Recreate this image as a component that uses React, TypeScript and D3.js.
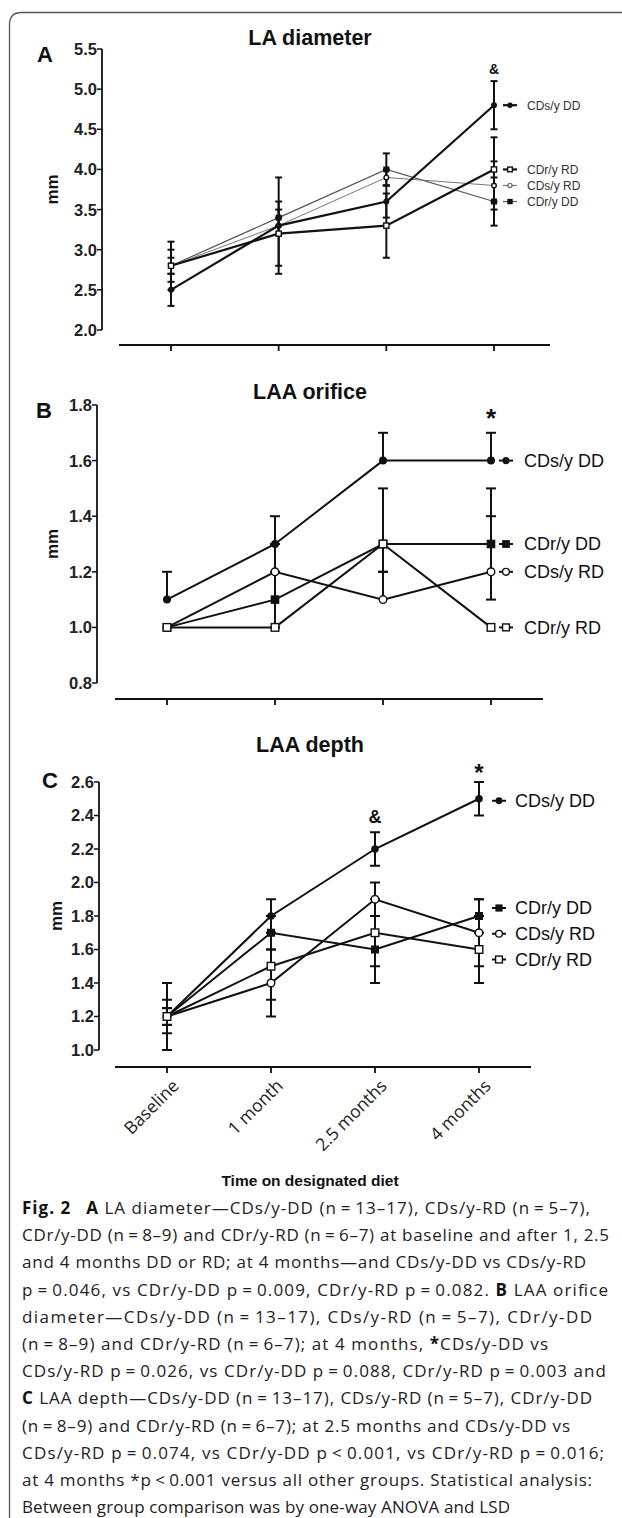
import React from "react";
import * as d3 from "d3";

const categories = ["Baseline", "1 month", "2.5 months", "4 months"];
const groups = ["CDs/y DD", "CDr/y DD", "CDs/y RD", "CDr/y RD"];

// Panel A: LA diameter (mm)
const laCDsDD = [2.5, 3.3, 3.6, 4.8];
const laCDrDD = [2.8, 3.4, 4.0, 3.6];
const laCDsRD = [2.8, 3.3, 3.9, 3.8];
const laCDrRD = [2.8, 3.2, 3.3, 4.0];
const laErrCDsDD = [0.2, 0.6, 0.2, 0.3];
const laErrCDrDD = [0.2, 0.1, 0.2, 0.3];
const laErrCDsRD = [0.1, 0.1, 0.1, 0.3];
const laErrCDrRD = [0.3, 0.4, 0.4, 0.4];
const laTicks = [2.0, 2.5, 3.0, 3.5, 4.0, 4.5, 5.0, 5.5];

// Panel B: LAA orifice (mm)
const orCDsDD = [1.1, 1.3, 1.6, 1.6];
const orCDrDD = [1.0, 1.1, 1.3, 1.3];
const orCDsRD = [1.0, 1.2, 1.1, 1.2];
const orCDrRD = [1.0, 1.0, 1.3, 1.0];
const orUpCDsDD = [0.1, 0.1, 0.1, 0.1];
const orDnCDsDD = [0, 0, 0, 0];
const orUpCDrDD = [0, 0.1, 0.2, 0.2];
const orDnCDrDD = [0, 0.1, 0.1, 0.2];
const orUpCDsRD = [0, 0.1, 0.1, 0.2];
const orDnCDsRD = [0, 0.2, 0, 0];
const orUpCDrRD = [0, 0, 0, 0];
const orDnCDrRD = [0, 0, 0, 0];
const orTicks = [0.8, 1.0, 1.2, 1.4, 1.6, 1.8];

// Panel C: LAA depth (mm)
const dpCDsDD = [1.2, 1.8, 2.2, 2.5];
const dpCDrDD = [1.2, 1.7, 1.6, 1.8];
const dpCDsRD = [1.2, 1.4, 1.9, 1.7];
const dpCDrRD = [1.2, 1.5, 1.7, 1.6];
const dpErrCDsDD = [0.2, 0.1, 0.1, 0.1];
const dpErrCDrDD = [0.1, 0.1, 0.2, 0.1];
const dpErrCDsRD = [0.05, 0.2, 0.1, 0.2];
const dpErrCDrRD = [0.05, 0.2, 0.2, 0.2];
const dpTicks = [1.0, 1.2, 1.4, 1.6, 1.8, 2.0, 2.2, 2.4, 2.6];

const captionLines: Array<Array<[string, boolean]>> = [
  [["Fig. 2", true], ["\u2002 ", false], ["A", true], [" LA diameter\u2014CDs/y-DD (n\u2009=\u200913\u201317), CDs/y-RD (n\u2009=\u20095\u20137),", false]],
  [["CDr/y-DD (n\u2009=\u20098\u20139) and CDr/y-RD (n\u2009=\u20096\u20137) at baseline and after 1, 2.5", false]],
  [["and 4 months DD or RD; at 4 months\u2014and CDs/y-DD vs CDs/y-RD", false]],
  [["p\u2009=\u20090.046, vs CDr/y-DD p\u2009=\u20090.009, CDr/y-RD p\u2009=\u20090.082. ", false], ["B", true], [" LAA orifice", false]],
  [["diameter\u2014CDs/y-DD (n\u2009=\u200913\u201317), CDs/y-RD (n\u2009=\u20095\u20137), CDr/y-DD", false]],
  [["(n\u2009=\u20098\u20139) and CDr/y-RD (n\u2009=\u20096\u20137); at 4 months, ", false], ["*", true], ["CDs/y-DD vs", false]],
  [["CDs/y-RD p\u2009=\u20090.026, vs CDr/y-DD p\u2009=\u20090.088, CDr/y-RD p\u2009=\u20090.003 and", false]],
  [["C", true], [" LAA depth\u2014CDs/y-DD (n\u2009=\u200913\u201317), CDs/y-RD (n\u2009=\u20095\u20137), CDr/y-DD", false]],
  [["(n\u2009=\u20098\u20139) and CDr/y-RD (n\u2009=\u20096\u20137); at 2.5 months and CDs/y-DD vs", false]],
  [["CDs/y-RD p\u2009=\u20090.074, vs CDr/y-DD p\u2009<\u20090.001, vs CDr/y-RD p\u2009=\u20090.016;", false]],
  [["at 4 months *p\u2009<\u20090.001 versus all other groups. Statistical analysis:", false]],
  [["Between group comparison was by one-way ANOVA and LSD", false]],
];
const captionRight = [590, 609, 586, 608, 592, 548, 606, 592, 570, 604, 592, 510];

const AX = "'Liberation Sans', Arial, Helvetica, sans-serif";
const CAP = "'Open Sans', 'Noto Sans', sans-serif";

type Marker = "fcircle" | "fsquare" | "ocircle" | "osquare";
interface Series {
  name: string;
  values: number[];
  up: number[];
  down: number[];
  marker: Marker;
  size: number;
  stroke: string;
  sw: number;
}
interface PanelCfg {
  letter: string;
  title: string;
  titleY: number;
  letterX: number;
  letterY: number;
  domain: [number, number];
  ticks: number[];
  yTop: number;
  yBottom: number;
  axisX: number;
  xFirst: number;
  xLast: number;
  xAxisY: number;
  xAxisL: number;
  xAxisR: number;
  mmX: number;
  series: Series[];
  capHalf: number;
  errW: number;
  legendX: number;
  legendTextX: number;
  legendFont: number;
  legendColor: string;
  legendShift: number[];
  legendLineHalf: number;
  marks: { col: number; text: string; y: number; size: number }[];
}

function MarkerShape({ m, cx, cy, size, color }: { m: Marker; cx: number; cy: number; size: number; color: string }) {
  if (m === "fcircle") return <circle cx={cx} cy={cy} r={size} fill="#111" />;
  if (m === "fsquare") return <rect x={cx - size} y={cy - size} width={size * 2} height={size * 2} fill="#111" />;
  if (m === "ocircle")
    return <circle cx={cx} cy={cy} r={size} fill="#fff" stroke={color} strokeWidth={1.4} />;
  return <rect x={cx - size} y={cy - size} width={size * 2} height={size * 2} fill="#fff" stroke={color} strokeWidth={1.4} />;
}

function Panel({ cfg }: { cfg: PanelCfg }) {
  const x = d3.scalePoint<string>().domain(categories).range([cfg.xFirst, cfg.xLast]);
  const y = d3.scaleLinear().domain(cfg.domain).range([cfg.yBottom, cfg.yTop]);
  const line = d3
    .line<number>()
    .x((_, i) => x(categories[i]) as number)
    .y((d) => y(d));
  const midY = (cfg.yTop + cfg.yBottom) / 2;
  return (
    <g>
      <text x={310} y={cfg.titleY} textAnchor="middle" fontFamily={AX} fontWeight="bold" fontSize={21.5} fill="#111">
        {cfg.title}
      </text>
      <text x={cfg.letterX} y={cfg.letterY} fontFamily={AX} fontWeight="bold" fontSize={22} fill="#111">
        {cfg.letter}
      </text>
      {/* y axis */}
      <line x1={cfg.axisX} x2={cfg.axisX} y1={y(cfg.domain[1])} y2={y(cfg.domain[0])} stroke="#111" strokeWidth={1.8} />
      {cfg.ticks.map((t) => (
        <g key={t}>
          <line x1={cfg.axisX - 5} x2={cfg.axisX} y1={y(t)} y2={y(t)} stroke="#111" strokeWidth={1.5} />
          <text x={cfg.axisX - 5} y={y(t)} dy="0.36em" textAnchor="end" fontFamily={AX} fontWeight="bold" fontSize={16.5} fill="#222">
            {t.toFixed(1)}
          </text>
        </g>
      ))}
      <text
        transform={`translate(${cfg.mmX},${midY}) rotate(-90)`}
        textAnchor="middle"
        dy="0.35em"
        fontFamily={AX}
        fontWeight="bold"
        fontSize={17}
        fill="#111"
      >
        mm
      </text>
      {/* x axis */}
      <line x1={cfg.xAxisL} x2={cfg.xAxisR} y1={cfg.xAxisY} y2={cfg.xAxisY} stroke="#111" strokeWidth={2} />
      {categories.map((c) => (
        <line key={c} x1={x(c)} x2={x(c)} y1={cfg.xAxisY} y2={cfg.xAxisY + 6} stroke="#111" strokeWidth={1.8} />
      ))}
      {/* lines */}
      {cfg.series.map((s) => (
        <path key={s.name} d={line(s.values) || ""} fill="none" stroke={s.stroke} strokeWidth={s.sw} />
      ))}
      {/* error bars */}
      {cfg.series.map((s) =>
        s.values.map((v, i) => {
          const cx = x(categories[i]) as number;
          const parts = [];
          if (s.up[i] > 0) {
            const yy = y(v + s.up[i]);
            parts.push(
              <g key={"u" + i}>
                <line x1={cx} x2={cx} y1={y(v)} y2={yy} stroke="#111" strokeWidth={cfg.errW} />
                <line x1={cx - cfg.capHalf} x2={cx + cfg.capHalf} y1={yy} y2={yy} stroke="#111" strokeWidth={cfg.errW} />
              </g>
            );
          }
          if (s.down[i] > 0) {
            const yy = y(v - s.down[i]);
            parts.push(
              <g key={"d" + i}>
                <line x1={cx} x2={cx} y1={y(v)} y2={yy} stroke="#111" strokeWidth={cfg.errW} />
                <line x1={cx - cfg.capHalf} x2={cx + cfg.capHalf} y1={yy} y2={yy} stroke="#111" strokeWidth={cfg.errW} />
              </g>
            );
          }
          return <g key={s.name + i}>{parts}</g>;
        })
      )}
      {/* markers */}
      {cfg.series.map((s) =>
        s.values.map((v, i) => (
          <MarkerShape key={s.name + "m" + i} m={s.marker} cx={x(categories[i]) as number} cy={y(v)} size={s.size} color="#111" />
        ))
      )}
      {/* legend */}
      {cfg.series.map((s, i) => {
        const ly = y(s.values[s.values.length - 1]) + cfg.legendShift[i];
        return (
          <g key={"lg" + s.name}>
            <line
              x1={cfg.legendX - cfg.legendLineHalf}
              x2={cfg.legendX + cfg.legendLineHalf}
              y1={ly}
              y2={ly}
              stroke={s.stroke}
              strokeWidth={Math.max(1.2, s.sw)}
            />
            <MarkerShape m={s.marker} cx={cfg.legendX} cy={ly} size={s.size * 0.9} color={s.stroke} />
            <text x={cfg.legendTextX} y={ly} dy="0.36em" fontFamily={AX} fontSize={cfg.legendFont} fill={cfg.legendColor}>
              {s.name}
            </text>
          </g>
        );
      })}
      {cfg.marks.map((m, i) => (
        <text key={"mk" + i} x={x(categories[m.col])} y={m.y} textAnchor="middle" fontFamily={AX} fontWeight="bold" fontSize={m.size} fill="#111">
          {m.text}
        </text>
      ))}
    </g>
  );
}

const panelA: PanelCfg = {
  letter: "A",
  title: "LA diameter",
  titleY: 45,
  letterX: 37,
  letterY: 62,
  domain: [2.0, 5.5],
  ticks: laTicks,
  yTop: 49,
  yBottom: 330,
  axisX: 102,
  xFirst: 171,
  xLast: 494,
  xAxisY: 345,
  xAxisL: 119,
  xAxisR: 550,
  mmX: 52,
  capHalf: 3.5,
  errW: 2,
  legendX: 510,
  legendTextX: 527,
  legendFont: 12,
  legendColor: "#333",
  legendShift: [0, 0, 0, 0],
  legendLineHalf: 7,
  series: [
    { name: groups[1], values: laCDrDD, up: laErrCDrDD, down: laErrCDrDD, marker: "fsquare", size: 3, stroke: "#555", sw: 1.2 },
    { name: groups[2], values: laCDsRD, up: laErrCDsRD, down: laErrCDsRD, marker: "ocircle", size: 2.3, stroke: "#777", sw: 1 },
    { name: groups[0], values: laCDsDD, up: laErrCDsDD, down: laErrCDsDD, marker: "fcircle", size: 3, stroke: "#111", sw: 2.2 },
    { name: groups[3], values: laCDrRD, up: laErrCDrRD, down: laErrCDrRD, marker: "osquare", size: 2.6, stroke: "#111", sw: 2.2 },
  ],
  marks: [{ col: 3, text: "&", y: 74, size: 14 }],
};

const panelB: PanelCfg = {
  letter: "B",
  title: "LAA orifice",
  titleY: 399,
  letterX: 36,
  letterY: 418,
  domain: [0.8, 1.8],
  ticks: orTicks,
  yTop: 405,
  yBottom: 683,
  axisX: 97,
  xFirst: 167,
  xLast: 491,
  xAxisY: 699,
  xAxisL: 115,
  xAxisR: 543,
  mmX: 52,
  capHalf: 5,
  errW: 2,
  legendX: 506,
  legendTextX: 524,
  legendFont: 18,
  legendColor: "#111",
  legendShift: [0, 0, 0, 0],
  legendLineHalf: 7,
  series: [
    { name: groups[0], values: orCDsDD, up: orUpCDsDD, down: orDnCDsDD, marker: "fcircle", size: 4, stroke: "#111", sw: 2 },
    { name: groups[1], values: orCDrDD, up: orUpCDrDD, down: orDnCDrDD, marker: "fsquare", size: 4.3, stroke: "#111", sw: 2 },
    { name: groups[2], values: orCDsRD, up: orUpCDsRD, down: orDnCDsRD, marker: "ocircle", size: 3.8, stroke: "#111", sw: 2 },
    { name: groups[3], values: orCDrRD, up: orUpCDrRD, down: orDnCDrRD, marker: "osquare", size: 3.8, stroke: "#111", sw: 2 },
  ],
  marks: [{ col: 3, text: "*", y: 427, size: 26 }],
};

const panelC: PanelCfg = {
  letter: "C",
  title: "LAA depth",
  titleY: 752,
  letterX: 42,
  letterY: 788,
  domain: [1.0, 2.6],
  ticks: dpTicks,
  yTop: 782,
  yBottom: 1050,
  axisX: 99,
  xFirst: 167,
  xLast: 479,
  xAxisY: 1067,
  xAxisL: 115,
  xAxisR: 531,
  mmX: 56,
  capHalf: 5,
  errW: 2,
  legendX: 499,
  legendTextX: 515,
  legendFont: 18,
  legendColor: "#111",
  legendShift: [2, -8, 1, 10],
  legendLineHalf: 7,
  series: [
    { name: groups[0], values: dpCDsDD, up: dpErrCDsDD, down: dpErrCDsDD, marker: "fcircle", size: 3.8, stroke: "#111", sw: 2 },
    { name: groups[1], values: dpCDrDD, up: dpErrCDrDD, down: dpErrCDrDD, marker: "fsquare", size: 4, stroke: "#111", sw: 2 },
    { name: groups[2], values: dpCDsRD, up: dpErrCDsRD, down: dpErrCDsRD, marker: "ocircle", size: 3.8, stroke: "#111", sw: 2 },
    { name: groups[3], values: dpCDrRD, up: dpErrCDrRD, down: dpErrCDrRD, marker: "osquare", size: 3.8, stroke: "#111", sw: 2 },
  ],
  marks: [
    { col: 2, text: "&", y: 823, size: 18 },
    { col: 3, text: "*", y: 781, size: 24 },
  ],
};

export default function App() {
  const xC = d3.scalePoint<string>().domain(categories).range([panelC.xFirst, panelC.xLast]);
  const capX = 22;
  return (
    <svg
      width={622}
      height={1518}
      viewBox="0 0 622 1518"
      style={{ position: "absolute", left: 0, top: 0, display: "block", background: "#fff" }}
    >
      <rect x={0} y={0} width={622} height={1518} fill="#fff" />
      <path d="M 622 12.5 H 21.5 Q 9.5 12.5 9.5 24.5 V 1518" fill="none" stroke="#555" strokeWidth={1.3} />
      <Panel cfg={panelA} />
      <Panel cfg={panelB} />
      <Panel cfg={panelC} />
      {categories.map((c) => (
        <text
          key={c}
          transform={`translate(${(xC(c) as number) + 13},${panelC.xAxisY + 20}) rotate(-45)`}
          textAnchor="end"
          fontFamily={CAP}
          fontSize={17.5}
          fill="#222"
        >
          {c}
        </text>
      ))}
      <text x={310} y={1186} textAnchor="middle" fontFamily={AX} fontWeight="bold" fontSize={15.5} fill="#111">
        Time on designated diet
      </text>
      {captionLines.map((segs, i) => (
        <text
          key={i}
          x={capX}
          y={1214 + i * 27.2}
          fontFamily={CAP}
          fontSize={17}
          fill="#222"
          textLength={captionRight[i] - capX}
          lengthAdjust="spacing"
        >
          {segs.map(([t, b], j) => (
            <tspan key={j} fontWeight={b ? 700 : 400} fill={b ? "#111" : "#222"}>
              {t}
            </tspan>
          ))}
        </text>
      ))}
    </svg>
  );
}
